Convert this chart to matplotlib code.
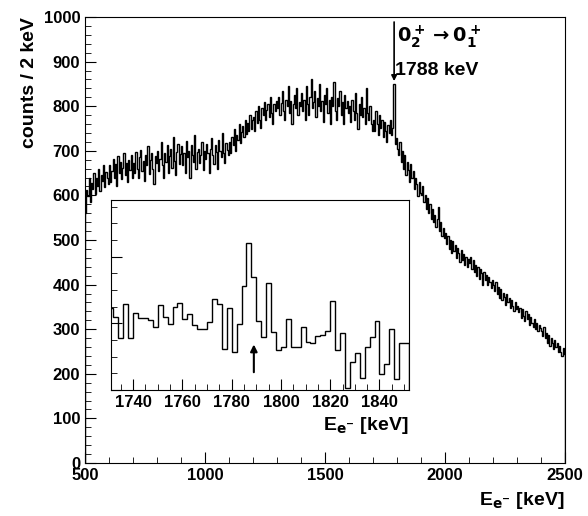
import numpy as np
import matplotlib.pyplot as plt

plt.rcParams["font.family"] = "Liberation Sans"
plt.rcParams["font.weight"] = "bold"

# main spectrum, 5 keV bins starting at 500 keV (counts / 2 keV)
main_start = 500
main_bin = 5
main_counts = [
    560, 612, 598, 640, 585, 628, 615, 650, 603, 638, 622, 660, 610, 645, 632, 668, 618, 652, 640, 625,
    668, 630, 655, 682, 640, 670, 622, 688, 650, 675, 636, 662, 695, 645, 672, 630, 680, 658, 690, 640,
    672, 650, 698, 660, 640, 685, 702, 655, 678, 632, 690, 668, 710, 648, 680, 695, 660, 625, 688, 672,
    700, 655, 682, 720, 668, 640, 695, 675, 712, 650, 688, 705, 662, 730, 678, 645, 698, 715, 670, 692,
    710, 668, 695, 650, 722, 685, 700, 640, 712, 690, 676, 735, 660, 698, 705, 672, 690, 720, 658, 700,
    682, 715, 695, 650, 705, 728, 690, 670, 712, 698, 660, 725, 700, 685, 740, 695, 672, 718, 702, 690,
    720, 695, 730, 712, 748, 700, 735, 725, 760, 718, 742, 755, 730, 770, 738, 762, 745, 780, 750, 768,
    775, 745, 790, 762, 800, 770, 752, 795, 780, 810, 768, 792, 805, 775, 820, 785, 760, 805, 790, 812,
    795, 820, 780, 808, 835, 790, 770, 815, 800, 845, 785, 812, 760, 805, 825, 795, 840, 780, 810, 800,
    830, 790, 815, 770, 845, 805, 780, 820, 860, 795, 810, 835, 775, 818, 800, 850, 790, 812, 765, 825,
    805, 840, 785, 815, 760, 820, 800, 855, 790, 770, 818, 800, 835, 780, 810, 760, 825, 795, 812, 785,
    800, 765, 815, 790, 770, 830, 785, 750, 805, 780, 820, 775, 795, 760, 840, 785, 770, 800, 760, 745,
    770, 745, 790, 760, 735, 780, 752, 770, 730, 765, 745, 720, 758, 740, 770, 735, 752, 850, 715, 728,
    705, 690, 720, 675, 700, 660, 690, 645, 675, 658, 630, 670, 640, 655, 615, 640, 625, 598, 630, 605,
    600, 620, 585, 600, 570, 595, 560, 580, 548, 570, 540, 556, 530, 548, 575, 520, 540, 510, 528, 505,
    515, 492, 510, 480, 500, 470, 498, 475, 488, 460, 482, 470, 450, 478, 455, 468, 445, 462, 440, 458,
    448, 462, 435, 455, 428, 445, 420, 440, 412, 435, 425, 400, 428, 410, 422, 398, 418, 405, 392, 410,
    400, 385, 405, 378, 395, 370, 390, 365, 382, 372, 355, 378, 360, 370, 348, 365, 352, 340, 360, 345,
    352, 338, 348, 325, 345, 330, 318, 340, 322, 335, 310, 328, 315, 305, 322, 300, 315, 295, 310, 302,
    295, 285, 305, 280, 292, 270, 288, 262, 280, 270, 255, 275, 260, 268, 248, 262, 250, 240, 258, 245,
]

# inset, 2 keV bins starting at 1730 keV (relative height)
inset_start = 1730
inset_bin = 2
inset_counts = [
    245, 218, 157, 258, 157, 230, 216, 216, 210, 188, 254, 220, 198, 248, 262,
    213, 227, 194, 182, 182, 205, 272, 257, 122, 246, 114, 198, 313, 440, 338,
    206, 159, 322, 174, 120, 128, 212, 129, 128, 188, 145, 141, 162, 164, 176,
    266, 119, 170, 5, 84, 112, 35, 128, 158, 208, 49, 79, 182, 32, 140, 140,
]

main_x = main_start + main_bin * np.arange(len(main_counts) + 1)
inset_x = inset_start + inset_bin * np.arange(len(inset_counts) + 1)

fig = plt.figure(figsize=(5.88, 5.16), dpi=100)
ax = fig.add_axes([85 / 588, 1 - 463 / 516, 480 / 588, 446 / 516])
ax.stairs(main_counts, main_x, color="black", linewidth=1.0)
ax.set_xlim(500, 2500)
ax.set_ylim(0, 1000)
ax.set_xticks([500, 1000, 1500, 2000, 2500])
ax.set_yticks(range(0, 1001, 100))
ax.minorticks_on()
ax.tick_params(which="both", direction="in", top=False, right=False, labelsize=12)
ax.tick_params(which="major", length=8)
ax.tick_params(which="minor", length=4)
for lab in ax.get_xticklabels() + ax.get_yticklabels():
    lab.set_fontweight("bold")
ax.set_ylabel("counts / 2 keV", fontsize=14, fontweight="bold", loc="top")
ax.text(1.0, -0.06, r"E$_{\mathbf{e^{-}}}$ [keV]", transform=ax.transAxes,
        ha="right", va="top", fontsize=14, fontweight="bold")
ax.annotate("", xy=(1788, 850), xytext=(1788, 995),
            arrowprops=dict(arrowstyle="-|>", color="black", lw=1.2, mutation_scale=8))
ax.text(1800, 955, r"$\mathbf{0_2^+ \rightarrow 0_1^+}$", fontsize=14, va="center")
ax.text(1790, 880, "1788 keV", fontsize=14, fontweight="bold", va="center")

ins = fig.add_axes([111 / 588, 1 - 390 / 516, 298 / 588, 190 / 516])
ins.stairs(inset_counts, inset_x, color="black", linewidth=1.0)
ins.set_xlim(1731, 1852)
ins.set_ylim(0, 570)
ins.set_xticks(range(1740, 1841, 20))
ins.set_yticklabels([])
ins.minorticks_on()
ins.tick_params(which="both", direction="in", labelsize=12)
ins.tick_params(which="major", length=8)
ins.tick_params(which="minor", length=4)
for lab in ins.get_xticklabels():
    lab.set_fontweight("bold")
ins.annotate("", xy=(1789, 145), xytext=(1789, 45),
             arrowprops=dict(arrowstyle="-|>", color="black", lw=1.5, mutation_scale=10))
ins.text(1.0, -0.13, r"E$_{\mathbf{e^{-}}}$ [keV]", transform=ins.transAxes,
         ha="right", va="top", fontsize=14, fontweight="bold")

fig.savefig("out.png", dpi=100)
